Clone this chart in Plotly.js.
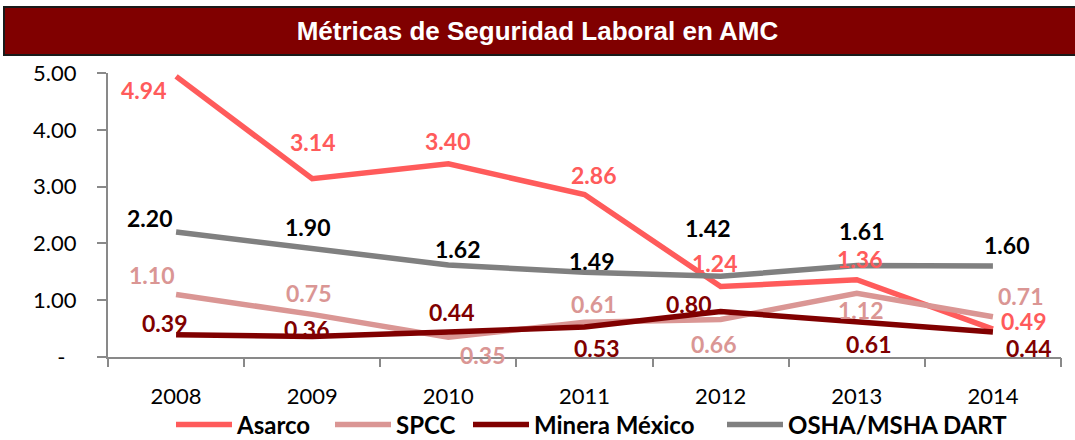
<!DOCTYPE html>
<html>
<head>
<meta charset="utf-8">
<script src="https://cdn.plot.ly/plotly-3.0.1.min.js"></script>
<style>html,body{margin:0;padding:0;background:#fff;}#chart{width:1075px;height:440px;}</style>
</head>
<body>
<div id="chart"></div>
<script>
// ---- data ----
const years = ['2008', '2009', '2010', '2011', '2012', '2013', '2014'];
const asarco = [4.94, 3.14, 3.40, 2.86, 1.24, 1.36, 0.49];
const spcc = [1.10, 0.75, 0.35, 0.61, 0.66, 1.12, 0.71];
const mineraMexico = [0.39, 0.36, 0.44, 0.53, 0.80, 0.61, 0.44];
const oshaDart = [2.20, 1.90, 1.62, 1.49, 1.42, 1.61, 1.60];
const seriesNames = ['Asarco', 'SPCC', 'Minera México', 'OSHA/MSHA DART'];
const yTickVals = [0, 1, 2, 3, 4, 5];
const yTickText = ['-\u00a0\u00a0', '1.00', '2.00', '3.00', '4.00', '5.00'];
const chartTitle = 'Métricas de Seguridad Laboral en AMC';

// ---- styling ----
const colors = ['#FF5B5B', '#DA9694', '#800000', '#808080'];
const labelColors = ['#FF5B5B', '#DA9694', '#800000', '#000000'];
// label offsets in px (dx right, dy down) relative to each point
const labelOffsets = [
  [[-33, 14], [0, -37], [-1, -23], [9, -20], [-6, -24], [3, -21], [31, -8]],
  [[-25, -20], [-4, -21], [34, 18], [9, -18], [-7, 24], [4, 17], [28, -21]],
  [[-12, -12], [-6, -8], [3, -20], [12, 21], [-32, -8], [12, 22], [36, 16]],
  [[-27, -14], [-5, -22], [9, -16], [7, -11], [-13, -48], [5, -35], [14, -21]]
];
const legendX = [176, 335, 473, 727]; // px where legend lines start

const allSeries = [asarco, spcc, mineraMexico, oshaDart];
const xIdx = years.map((_, i) => i);

const W = 1075, H = 440;
const m = {l: 108, r: 14, t: 73, b: 83};
const pw = W - m.l - m.r, ph = H - m.t - m.b;

const traces = allSeries.map((vals, s) => ({
  type: 'scatter', mode: 'lines', name: seriesNames[s],
  x: xIdx, y: vals,
  line: {color: colors[s], width: 5.5},
  legend: s === 0 ? 'legend' : 'legend' + (s + 1),
  hoverinfo: 'skip'
}));

const annotations = [];
allSeries.forEach((vals, s) => {
  vals.forEach((v, i) => {
    annotations.push({
      x: i, y: v, xref: 'x', yref: 'y', showarrow: false,
      text: v.toFixed(2),
      xshift: labelOffsets[s][i][0], yshift: -labelOffsets[s][i][1],
      font: {family: 'Lato, sans-serif', size: 23, weight: 'bold', color: labelColors[s]},
      xanchor: 'center', yanchor: 'middle'
    });
  });
});

const legendBase = {
  orientation: 'h', xref: 'paper', yref: 'container',
  y: 1 - 425 / H, yanchor: 'middle', xanchor: 'left',
  itemwidth: 56, bgcolor: 'rgba(0,0,0,0)', borderwidth: 0,
  font: {family: 'Lato, sans-serif', size: 24, weight: 'bold', color: '#000'},
  itemclick: false, itemdoubleclick: false
};
const legends = {};
legendX.forEach((px, s) => {
  const key = s === 0 ? 'legend' : 'legend' + (s + 1);
  legends[key] = Object.assign({}, legendBase, {x: (px - 5 - m.l) / pw});
});

const layout = Object.assign({
  width: W, height: H,
  margin: m,
  paper_bgcolor: '#fff', plot_bgcolor: '#fff',
  showlegend: true,
  title: {
    text: chartTitle, x: 0.5, xanchor: 'center', xref: 'container',
    y: 1 - 31 / H, yanchor: 'middle', yref: 'container',
    font: {family: '"Liberation Sans Narrow", "Arial Narrow", "Liberation Sans", sans-serif', size: 26, weight: 'bold', color: '#ffffff'}
  },
  shapes: [{
    type: 'rect', xref: 'paper', yref: 'paper', layer: 'below',
    x0: (4 - m.l) / pw, x1: (W + 10 - m.l) / pw,
    y0: (H - m.b - 55) / ph, y1: (H - m.b - 7) / ph,
    fillcolor: '#800000', line: {color: '#1a1a1a', width: 2}
  }],
  xaxis: {
    type: 'linear', range: [-0.5, 6.5],
    tickmode: 'array', tickvals: xIdx, ticktext: years,
    showgrid: false, zeroline: false,
    showline: true, linecolor: '#898989', linewidth: 2,
    ticks: '',
    tickfont: {family: 'Lato, sans-serif', size: 22, color: '#000'},
    ticklabelstandoff: 19,
    fixedrange: true
  },
  xaxis2: {
    overlaying: 'x', anchor: 'y', side: 'bottom',
    type: 'linear', range: [-0.5, 6.5],
    tickmode: 'array', tickvals: [-0.5, 0.5, 1.5, 2.5, 3.5, 4.5, 5.5, 6.5],
    showticklabels: false, showgrid: false, zeroline: false, showline: false,
    ticks: 'outside', ticklen: 9, tickwidth: 2, tickcolor: '#898989',
    fixedrange: true
  },
  yaxis: {
    range: [0, 5],
    tickmode: 'array', tickvals: yTickVals, ticktext: yTickText,
    showgrid: false, zeroline: false,
    showline: true, linecolor: '#898989', linewidth: 2,
    ticks: 'outside', ticklen: 9, tickwidth: 2, tickcolor: '#898989',
    tickfont: {family: 'Lato, sans-serif', size: 22, color: '#000'},
    ticklabelstandoff: 16,
    fixedrange: true
  },
  annotations: annotations
}, legends);

// invisible trace to activate the tick axis for category boundaries
traces.push({type: 'scatter', x: [0], y: [0], xaxis: 'x2', mode: 'none', showlegend: false, hoverinfo: 'skip'});

Plotly.newPlot('chart', traces, layout, {staticPlot: true, displayModeBar: false});
</script>
</body>
</html>
